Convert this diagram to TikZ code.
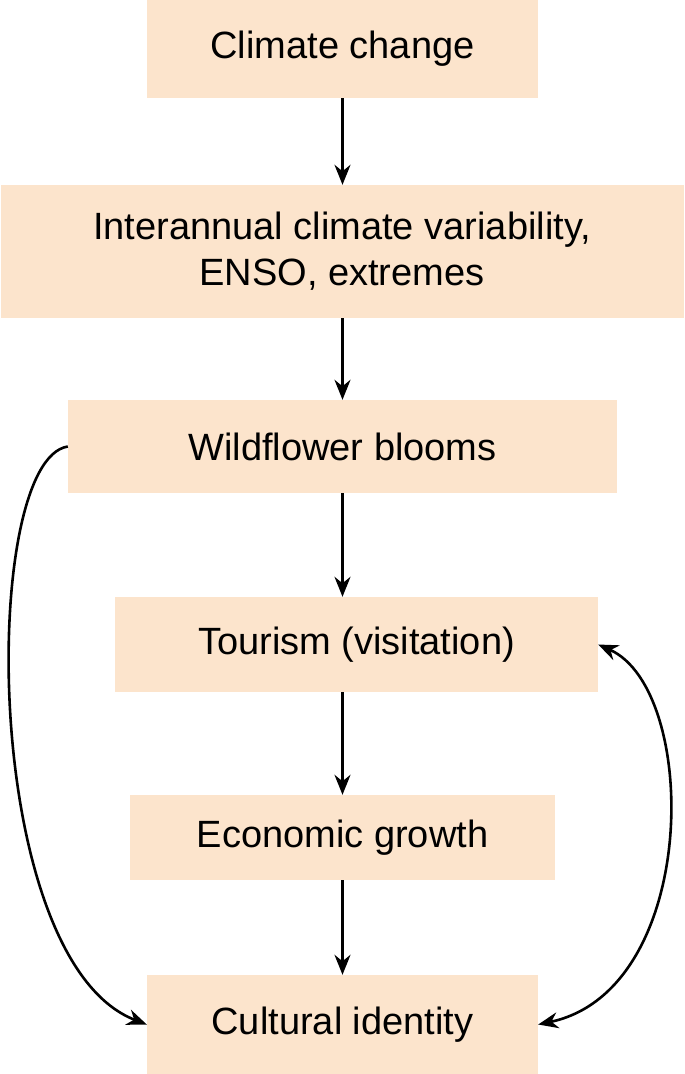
\documentclass[tikz,border=0pt]{standalone}
\usepackage{fontspec}
\setmainfont{Liberation Sans}
\usetikzlibrary{arrows.meta}
\definecolor{peach}{HTML}{FCE4CC}
\begin{document}
\begin{tikzpicture}[x=1pt,y=-1pt,
  box/.style={fill=peach,draw=none,inner sep=0pt,align=center,font=\fontsize{38}{46}\selectfont},
  arr/.style={line width=2.6pt,-{Stealth[length=20pt,width=16pt]}}]
\useasboundingbox (0,0) rectangle (685,1074);
\node[box,minimum width=391pt,minimum height=98pt] (cc) at (342.5,49) {Climate change};
\node[box,minimum width=683pt,minimum height=133pt] (ia) at (342,251.5) {Interannual climate variability,\\ENSO, extremes};
\node[box,minimum width=549pt,minimum height=93pt] (wf) at (342.5,446.5) {Wildflower blooms};
\node[box,minimum width=483pt,minimum height=95pt] (tv) at (356.5,644.5) {Tourism (visitation)};
\node[box,minimum width=425pt,minimum height=85pt] (eg) at (342.5,837.5) {Economic growth};
\node[box,minimum width=391pt,minimum height=99pt] (ci) at (342.5,1024.5) {Cultural identity};
\draw[arr] (cc.south -| 342.5,0) -- (ia.north -| 342.5,0);
\draw[arr] (ia.south -| 342.5,0) -- (wf.north -| 342.5,0);
\draw[arr] (wf.south -| 342.5,0) -- (tv.north -| 342.5,0);
\draw[arr] (tv.south -| 342.5,0) -- (eg.north -| 342.5,0);
\draw[arr] (eg.south -| 342.5,0) -- (ci.north -| 342.5,0);
\draw[arr] (wf.west) .. controls (-20,460) and (-20,960) .. (ci.west);
\draw[line width=2.6pt,{Stealth[length=20pt,width=16pt]}-{Stealth[length=20pt,width=16pt]}] (tv.east) .. controls (700,690) and (700,990) .. (ci.east);
\end{tikzpicture}
\end{document}
